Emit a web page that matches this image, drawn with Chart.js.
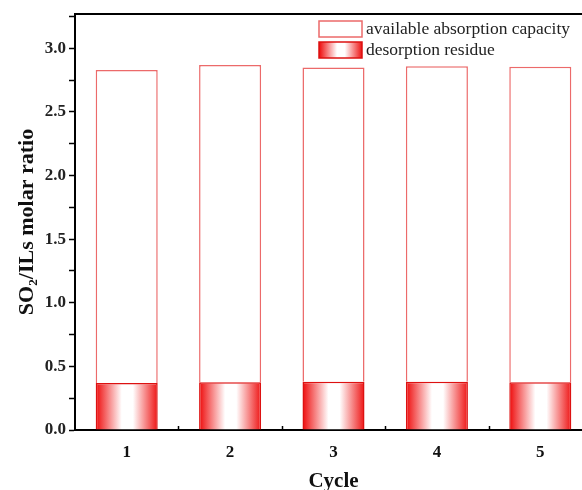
<!DOCTYPE html>
<html>
<head>
<meta charset="utf-8">
<script src="https://cdn.jsdelivr.net/npm/chart.js@4/dist/chart.umd.min.js"></script>
<style>
  html, body { margin: 0; padding: 0; background: #fff; overflow: hidden; }
  #wrap { width: 600px; height: 494px; }
</style>
</head>
<body>
<div id="wrap"><canvas id="chart"></canvas></div>
<script>
const cycles = ['1', '2', '3', '4', '5'];
const residue = [0.37, 0.375, 0.38, 0.38, 0.375];
const available = [2.46, 2.495, 2.47, 2.48, 2.48];
const yTicks = [0, 0.5, 1.0, 1.5, 2.0, 2.5, 3.0];

const serif = "'Liberation Serif', 'Times New Roman', serif";
const BAR_FRAC = 0.6;

// red -> white -> red across the bar width
function redFade(c, x0, x1) {
  const g = c.createLinearGradient(x0, 0, x1, 0);
  g.addColorStop(0, '#ee0a0a');
  g.addColorStop(0.42, '#ffffff');
  g.addColorStop(0.6, '#ffffff');
  g.addColorStop(1, '#ee1414');
  return g;
}

function residueFill(ctx) {
  const chart = ctx.chart;
  const x = chart.scales.x;
  if (!x || ctx.dataIndex === undefined) return '#f55';
  const step = x.getPixelForValue(1) - x.getPixelForValue(0);
  const cx = x.getPixelForValue(ctx.dataIndex);
  if (!isFinite(step) || !isFinite(cx)) return '#f55';
  const half = step * BAR_FRAC / 2;
  return redFade(chart.ctx, cx - half, cx + half);
}

const frame = {
  id: 'frame',
  afterDraw(chart) {
    const c = chart.ctx, a = chart.chartArea, x = chart.scales.x;
    c.save();
    c.strokeStyle = '#000';
    c.lineWidth = 2;
    c.beginPath();
    c.moveTo(a.left, a.top);
    c.lineTo(a.right, a.top);
    c.lineTo(a.right, a.bottom);
    c.stroke();
    // small inward ticks between categories
    c.lineWidth = 1.5;
    const step = x.getPixelForValue(1) - x.getPixelForValue(0);
    for (let i = 0; i < cycles.length - 1; i++) {
      const px = Math.round(x.getPixelForValue(i) + step / 2) + 0.5;
      c.beginPath();
      c.moveTo(px, a.bottom);
      c.lineTo(px, a.bottom - 4);
      c.stroke();
    }
    c.restore();
  }
};

const legendBox = {
  id: 'legendBox',
  afterDraw(chart) {
    const c = chart.ctx;
    const left = 319, w = 43, h = 16;
    const rows = [
      { ds: chart.data.datasets[1], y: 21 },
      { ds: chart.data.datasets[0], y: 42 }
    ];
    c.save();
    c.font = '17.5px ' + serif;
    c.textBaseline = 'middle';
    rows.forEach((r, i) => {
      c.fillStyle = i === 1 ? redFade(c, left, left + w) : '#fff';
      c.fillRect(left, r.y, w, h);
      c.strokeStyle = r.ds.borderColor;
      c.lineWidth = 1.5;
      c.strokeRect(left, r.y, w, h);
      c.fillStyle = '#222';
      c.fillText(r.ds.label, left + w + 4, r.y + h / 2);
    });
    c.restore();
  }
};

new Chart(document.getElementById('chart'), {
  type: 'bar',
  data: {
    labels: cycles,
    datasets: [
      {
        label: 'desorption residue',
        data: residue,
        backgroundColor: residueFill,
        borderColor: '#dd1111',
        borderWidth: 1.5,
        borderSkipped: 'bottom',
        barPercentage: BAR_FRAC,
        categoryPercentage: 1
      },
      {
        label: 'available absorption capacity',
        data: available,
        backgroundColor: '#ffffff',
        borderColor: '#ec6a6a',
        borderWidth: 1.5,
        borderSkipped: 'bottom',
        barPercentage: BAR_FRAC,
        categoryPercentage: 1
      }
    ]
  },
  options: {
    responsive: true,
    maintainAspectRatio: false,
    animation: false,
    layout: { padding: { top: 14, right: 8, left: 0, bottom: 0 } },
    plugins: {
      legend: { display: false },
      tooltip: { enabled: false }
    },
    scales: {
      x: {
        stacked: true,
        grid: { display: false, drawTicks: false },
        border: { color: '#000', width: 2 },
        ticks: {
          color: '#111',
          padding: 12,
          font: { family: serif, size: 17, weight: 'bold' }
        },
        title: {
          display: true,
          text: 'Cycle',
          color: '#111',
          padding: { top: 4, bottom: 0 },
          font: { family: serif, size: 21, weight: 'bold' }
        },
        afterFit(s) { s.height = 64; }
      },
      y: {
        stacked: true,
        min: 0,
        max: 3.27,
        grid: {
          drawOnChartArea: false,
          drawTicks: true,
          tickLength: 6,
          tickColor: '#000',
          tickWidth: 1.5
        },
        border: { color: '#000', width: 2 },
        ticks: {
          stepSize: 0.25,
          includeBounds: false,
          padding: 3,
          color: '#222',
          font: { family: serif, size: 17, weight: 'bold' },
          callback: v => yTicks.some(t => Math.abs(t - v) < 1e-6) ? v.toFixed(1) : ''
        },
        title: {
          display: true,
          text: 'SO₂/ILs molar ratio',
          color: '#111',
          padding: { top: 14, bottom: 0 },
          font: { family: serif, size: 22, weight: 'bold' }
        },
        afterFit(s) { s.width = 75; }
      }
    }
  },
  plugins: [frame, legendBox]
});
</script>
</body>
</html>
